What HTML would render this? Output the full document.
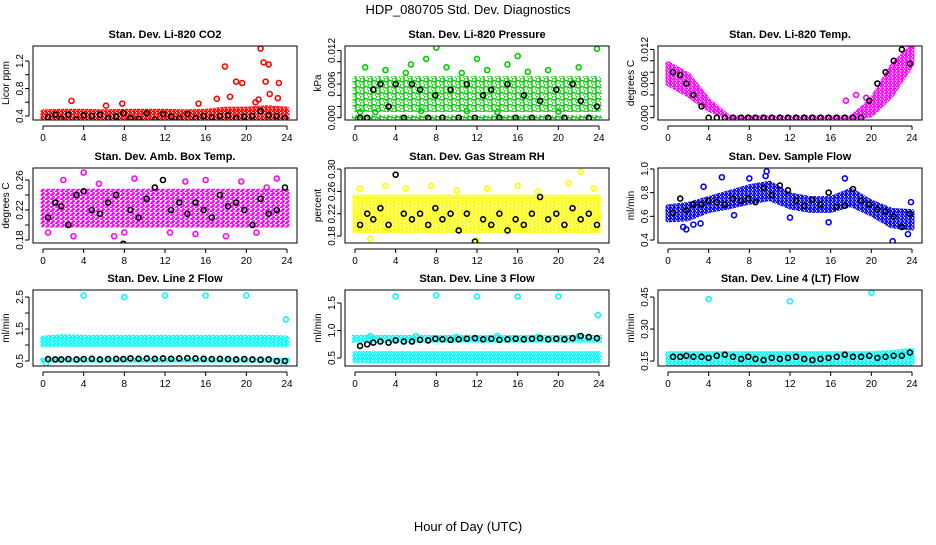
<!DOCTYPE html>
<html><head><meta charset="utf-8"><style>
body{margin:0;background:#fff;width:936px;height:540px;overflow:hidden;font-family:"Liberation Sans",sans-serif}
svg text{font-family:"Liberation Sans",sans-serif}
</style></head><body>
<svg id="c" width="936" height="540" xmlns="http://www.w3.org/2000/svg">
<text x="468" y="14" font-size="13" text-anchor="middle">HDP_080705  Std. Dev. Diagnostics</text>
<text x="468" y="531" font-size="13" text-anchor="middle">Hour of Day (UTC)</text>
</svg>
<script>
const hours=[0,2,4,6,8,10,12,14,16,18,20,22,24];
const blackX=[0.5,1.2,1.8,2.5,3.3,4,4.8,5.6,6.4,7.2,7.9,8.6,9.4,10.2,11,11.8,12.6,13.4,14.2,15,15.8,16.6,17.4,18.2,19,19.8,20.6,21.4,22.2,23,23.8];
// CO2
const co2Lo=[0.34,0.34,0.34,0.34,0.34,0.34,0.34,0.34,0.34,0.34,0.34,0.34,0.34];
const co2Hi=[0.46,0.47,0.47,0.46,0.47,0.47,0.47,0.46,0.47,0.5,0.5,0.52,0.5];
const co2OutX=[2.8,17.9,19,19.6,21.4,21.7,22.2,21.9,23.2,20.9,22.3,17.1,15.3,7.8,6.2,23.9,18.4,21.2,23.1];
const co2OutY=[0.62,1.12,0.9,0.88,1.38,1.18,1.15,0.9,0.88,0.6,0.72,0.65,0.58,0.58,0.55,0.3,0.68,0.64,0.66];
const co2Black=[0.38,0.42,0.36,0.42,0.35,0.41,0.4,0.42,0.37,0.39,0.44,0.37,0.36,0.44,0.35,0.43,0.39,0.37,0.43,0.37,0.4,0.38,0.4,0.41,0.37,0.39,0.4,0.47,0.41,0.4,0.37];
// Pressure
const prLo=[0.0015,0.0015,0.0015,0.0015,0.0015,0.0015,0.0015,0.0015,0.0015,0.0015,0.0015,0.0015,0.0015];
const prHi=[0.007,0.007,0.007,0.007,0.007,0.007,0.007,0.007,0.007,0.007,0.007,0.007,0.007];
const prOutX=[1,3,5,5.5,7,8,9,10.5,12,13,15,16,17,19,22,23.8,0.5,6.5,14,20,2,11];
const prOutY=[0.009,0.0085,0.008,0.0095,0.0105,0.0125,0.009,0.008,0.0105,0.0085,0.0095,0.011,0.0082,0.0085,0.009,0.0123,0.001,0.0012,0.001,0.0011,0.001,0.0012];
const prBlack=[0,0,0.005,0.006,0.002,0.006,0,0.006,0.005,0,0.004,0,0.005,0,0.006,0,0.004,0.005,0,0.006,0,0.004,0,0.003,0,0.005,0,0.006,0.003,0,0.002];
// Temp
const tpLo=[0.006,0.004,0.0015,0,0,0,0,0,0,0,0.0005,0.004,0.0095];
const tpHi=[0.0095,0.0075,0.003,0,0,0,0,0,0,0,0.003,0.009,0.0125];
const tpOutX=[17.5,18.5,19.5,23.5,24];
const tpOutY=[0.003,0.004,0.0035,0.013,0.0128];
const tpBlack=[0.008,0.0075,0.006,0.004,0.002,0,0,0,0,0,0,0,0,0,0,0,0,0,0,0,0,0,0,0,0,0.003,0.006,0.008,0.01,0.012,0.0095];
// Amb box
const abLo=[0.2,0.2,0.2,0.2,0.2,0.2,0.2,0.2,0.2,0.2,0.2,0.2,0.2];
const abHi=[0.245,0.245,0.245,0.245,0.245,0.245,0.245,0.245,0.245,0.245,0.245,0.245,0.245];
const abOutX=[0.5,2,4,5.5,7,9,11,12.5,14,16,18,19.5,21,23,3,8,15,22];
const abOutY=[0.19,0.26,0.27,0.255,0.185,0.262,0.25,0.19,0.258,0.26,0.185,0.258,0.19,0.262,0.185,0.19,0.188,0.25];
const abBlack=[0.21,0.23,0.225,0.2,0.24,0.245,0.22,0.215,0.23,0.24,0.175,0.22,0.21,0.235,0.25,0.26,0.22,0.23,0.215,0.23,0.22,0.21,0.24,0.225,0.23,0.22,0.2,0.235,0.215,0.22,0.25];
// RH
const rhLo=[0.19,0.19,0.19,0.19,0.19,0.19,0.19,0.19,0.19,0.19,0.19,0.19,0.19];
const rhHi=[0.25,0.25,0.25,0.25,0.25,0.25,0.25,0.25,0.25,0.25,0.25,0.25,0.25];
const rhOutX=[0.5,3,5,7.5,10,13,16,18,21,22.2,23.5,12,1.5];
const rhOutY=[0.265,0.27,0.265,0.27,0.262,0.265,0.27,0.26,0.275,0.295,0.265,0.172,0.175];
const rhBlack=[0.2,0.22,0.21,0.23,0.2,0.29,0.22,0.21,0.22,0.2,0.23,0.21,0.22,0.19,0.22,0.17,0.21,0.2,0.22,0.19,0.21,0.2,0.22,0.25,0.21,0.22,0.2,0.23,0.21,0.22,0.2];
// Sample flow
const sfLo=[0.57,0.58,0.65,0.68,0.72,0.75,0.68,0.65,0.65,0.7,0.62,0.52,0.5];
const sfHi=[0.68,0.7,0.75,0.8,0.85,0.88,0.78,0.75,0.75,0.82,0.72,0.65,0.64];
const sfOutX=[1.5,1.8,3.2,5.3,8,9.7,9.6,12,15.8,17.4,22.1,23.6,23.9,3.5,6.5,2.5];
const sfOutY=[0.51,0.49,0.54,0.93,0.92,0.98,0.94,0.59,0.55,0.92,0.39,0.45,0.72,0.85,0.61,0.53];
const sfBlack=[0.63,0.75,0.65,0.7,0.7,0.73,0.72,0.7,0.75,0.73,0.75,0.72,0.84,0.78,0.86,0.82,0.73,0.69,0.74,0.7,0.8,0.68,0.69,0.83,0.73,0.7,0.66,0.64,0.6,0.51,0.62];
// Line2
const l2Lo=[1.0,1.02,1.02,1.02,1.02,1.02,1.02,1.02,1.02,1.02,1.02,1.02,1.0];
const l2Hi=[1.22,1.26,1.24,1.24,1.24,1.24,1.24,1.24,1.24,1.24,1.24,1.24,1.22];
const l2OutX=[4,8,12,16,20,23.9,0.3,23.7];
const l2OutY=[2.55,2.5,2.55,2.55,2.55,1.8,0.42,0.4];
const l2Black=[0.56,0.55,0.55,0.56,0.55,0.56,0.57,0.55,0.56,0.57,0.56,0.58,0.57,0.58,0.57,0.58,0.57,0.58,0.59,0.58,0.57,0.56,0.57,0.56,0.55,0.56,0.55,0.54,0.55,0.5,0.5];
// Line3
const l3Lo=[0.45,0.45,0.45,0.45,0.45,0.45,0.45,0.45,0.45,0.45,0.45,0.45,0.45];
const l3Hi=[0.58,0.58,0.58,0.58,0.58,0.58,0.58,0.58,0.58,0.58,0.58,0.58,0.58];
const l3OutX=[4,8,12,16,20,23.9,1.5,6,10,14,18,22];
const l3OutY=[1.62,1.64,1.62,1.62,1.62,1.28,0.9,0.9,0.88,0.9,0.88,0.9];
const l3Black=[0.72,0.75,0.78,0.8,0.78,0.82,0.8,0.8,0.83,0.82,0.85,0.84,0.83,0.84,0.85,0.86,0.84,0.85,0.83,0.84,0.85,0.84,0.85,0.86,0.84,0.85,0.84,0.86,0.9,0.88,0.86];
// Line4
const l4Lo=[0.14,0.14,0.14,0.14,0.14,0.14,0.14,0.14,0.14,0.14,0.14,0.14,0.14];
const l4Hi=[0.185,0.185,0.185,0.185,0.185,0.185,0.185,0.185,0.185,0.185,0.185,0.19,0.2];
const l4OutX=[4,12,20];
const l4OutY=[0.44,0.43,0.47];
const l4Black=[0.17,0.17,0.175,0.17,0.17,0.165,0.175,0.18,0.17,0.16,0.17,0.16,0.155,0.165,0.16,0.165,0.17,0.16,0.155,0.16,0.165,0.17,0.18,0.17,0.17,0.175,0.165,0.17,0.175,0.175,0.19];

const NS='http://www.w3.org/2000/svg';
const svg=document.getElementById('c');
function mk(tag,at,parent){const e=document.createElementNS(NS,tag);for(const k in at)e.setAttribute(k,at[k]);(parent||svg).appendChild(e);return e;}
const cols=[[33,297],[345,609],[658,922]];
const rows=[[46,120],[168,243],[290,366]];
const smallTicks=[0,0.002,0.004,0.006,0.008,0.010,0.012];
const smallLabels=[0,0.006,0.012];
const panels=[
 {t:'Stan. Dev. Li-820 CO2',yl:'Licor ppm',d:[0.342,1.418],ticks:[0.4,0.6,0.8,1.0,1.2],labs:[0.4,0.8,1.2],fmt:1,c:'#ff0000',lo:co2Lo,hi:co2Hi,ox:co2OutX,oy:co2OutY,b:co2Black,n:'co2',pw:4,ph:3.5},
 {t:'Stan. Dev. Li-820 Pressure',yl:'kPa',d:[-0.0004,0.0128],ticks:smallTicks,labs:smallLabels,fmt:3,c:'#00cc00',lo:prLo,hi:prHi,ox:prOutX,oy:prOutY,b:prBlack,n:'pressure',zero:true,pw:8,ph:6},
 {t:'Stan. Dev. Li-820 Temp.',yl:'degrees C',d:[-0.0004,0.0126],ticks:smallTicks,labs:smallLabels,fmt:3,c:'#ff00ff',lo:tpLo,hi:tpHi,ox:tpOutX,oy:tpOutY,b:tpBlack,n:'temp',pw:4,ph:3.5},
 {t:'Stan. Dev. Amb. Box Temp.',yl:'degrees C',d:[0.176,0.276],ticks:[0.18,0.20,0.22,0.24,0.26],labs:[0.18,0.22,0.26],fmt:2,c:'#ff00ff',lo:abLo,hi:abHi,ox:abOutX,oy:abOutY,b:abBlack,n:'amb-box',pw:5,ph:4},
 {t:'Stan. Dev. Gas Stream RH',yl:'percent',d:[0.1675,0.302],ticks:[0.18,0.22,0.26,0.30],labs:[0.18,0.22,0.26,0.30],fmt:2,c:'#ffff00',lo:rhLo,hi:rhHi,ox:rhOutX,oy:rhOutY,b:rhBlack,n:'rh',pw:4,ph:3.5},
 {t:'Stan. Dev. Sample Flow',yl:'ml/min',d:[0.375,1.008],ticks:[0.4,0.6,0.8,1.0],labs:[0.4,0.6,0.8,1.0],fmt:1,c:'#0000ff',lo:sfLo,hi:sfHi,ox:sfOutX,oy:sfOutY,b:sfBlack,n:'sample-flow',pw:4,ph:3.5},
 {t:'Stan. Dev. Line 2 Flow',yl:'ml/min',d:[0.344,2.72],ticks:[0.5,1.0,1.5,2.0,2.5],labs:[0.5,1.5,2.5],fmt:1,c:'#00ffff',lo:l2Lo,hi:l2Hi,ox:l2OutX,oy:l2OutY,b:l2Black,n:'line2',base:[0.45,0.6],pw:4,ph:3.5},
 {t:'Stan. Dev. Line 3 Flow',yl:'ml/min',d:[0.355,1.736],ticks:[0.5,1.0,1.5],labs:[0.5,1.0,1.5],fmt:1,c:'#00ffff',lo:l3Lo,hi:l3Hi,ox:l3OutX,oy:l3OutY,b:l3Black,n:'line3',base:[0.78,0.92],pw:4,ph:3.5},
 {t:'Stan. Dev. Line 4 (LT) Flow',yl:'ml/min',d:[0.127,0.483],ticks:[0.15,0.30,0.45],labs:[0.15,0.30,0.45],fmt:2,c:'#00ffff',lo:l4Lo,hi:l4Hi,ox:l4OutX,oy:l4OutY,b:l4Black,n:'line4',pw:4,ph:3.5}
];
const defs=mk('defs',{});
panels.forEach((p,i)=>{
 const [x0,x1]=cols[i%3],[y0,y1]=rows[Math.floor(i/3)];
 const pat=mk('pattern',{id:'pat'+i,patternUnits:'userSpaceOnUse',width:p.pw,height:p.ph},defs);
 mk('circle',{cx:p.pw*0.25,cy:p.ph*0.3,r:2.2,fill:'none',stroke:p.c,'stroke-width':'1.4'},pat);
 mk('circle',{cx:p.pw*0.75,cy:p.ph*0.8,r:2.2,fill:'none',stroke:p.c,'stroke-width':'1.4'},pat);
 const g=mk('g',{});
 
 
 const X=h=>x0+10+(h/24)*(x1-x0-20);
 const Y=v=>y1-(v-p.d[0])/(p.d[1]-p.d[0])*(y1-y0);
 const t=mk('text',{x:(x0+x1)/2,y:y0-8,'font-size':'11','font-weight':'bold','text-anchor':'middle'},g);t.textContent=p.t;
 
 
 const yt=mk('text',{transform:`translate(${x0-24},${(y0+y1)/2}) rotate(-90)`,'font-size':'10','text-anchor':'middle'},g);yt.textContent=p.yl;
 
 
 const clip='clip'+i;
 const cp=mk('clipPath',{id:clip},g);mk('rect',{x:x0,y:y0,width:x1-x0,height:y1-y0},cp);
 const pg=mk('g',{'clip-path':`url(#${clip})`},g);
 let pts=hours.map((h,k)=>X(h)+','+Y(p.hi[k])).join(' ')+' '+hours.slice().reverse().map((h,k)=>X(h)+','+Y(p.lo[hours.length-1-k])).join(' ');
 const band=mk('polygon',{points:pts,fill:`url(#pat${i})`,stroke:`url(#pat${i})`,'stroke-width':'5','stroke-linejoin':'round'},pg);
 
 
 if(p.zero){const z=mk('rect',{x:X(0)-3,y:Y(0)-3,width:X(24)-X(0)+6,height:6,fill:`url(#pat${i})`},pg);}
 if(p.base){const z=mk('rect',{x:X(0)-3,y:Y(p.base[1]),width:X(24)-X(0)+6,height:Y(p.base[0])-Y(p.base[1]),fill:`url(#pat${i})`},pg);}
 p.ox.forEach((h,k)=>{const c=mk('circle',{cx:X(h),cy:Y(p.oy[k]),r:2.5,fill:'none',stroke:p.c,'stroke-width':'1.6'},pg);
  
  });
 blackX.forEach((h,k)=>{const c=mk('circle',{cx:X(h),cy:Y(p.b[k]),r:2.5,fill:'none',stroke:'#000','stroke-width':'1.6'},pg);
  
  });
 const box=mk('rect',{x:x0,y:y0,width:x1-x0,height:y1-y0,fill:'none',stroke:'#000','stroke-width':'1'},g);
 
 
 mk('line',{x1:X(0),x2:X(24),y1:y1+6,y2:y1+6,stroke:'#000'},g);
 [0,4,8,12,16,20,24].forEach(h=>{mk('line',{x1:X(h),x2:X(h),y1:y1+6,y2:y1+10,stroke:'#000'},g);
  const l=mk('text',{x:X(h),y:y1+21,'font-size':'10','text-anchor':'middle'},g);l.textContent=h;
  
  });
 mk('line',{x1:x0-4,x2:x0-4,y1:Y(p.ticks[0]),y2:Y(p.ticks[p.ticks.length-1]),stroke:'#000'},g);
 p.ticks.forEach(v=>{mk('line',{x1:x0-8,x2:x0-4,y1:Y(v),y2:Y(v),stroke:'#000'},g);});
 p.labs.forEach(v=>{
  const l=mk('text',{transform:`translate(${x0-10},${Y(v)}) rotate(-90)`,'font-size':'10','text-anchor':'middle'},g);l.textContent=v.toFixed(p.fmt);
  
  });
});
</script>
</body></html>
